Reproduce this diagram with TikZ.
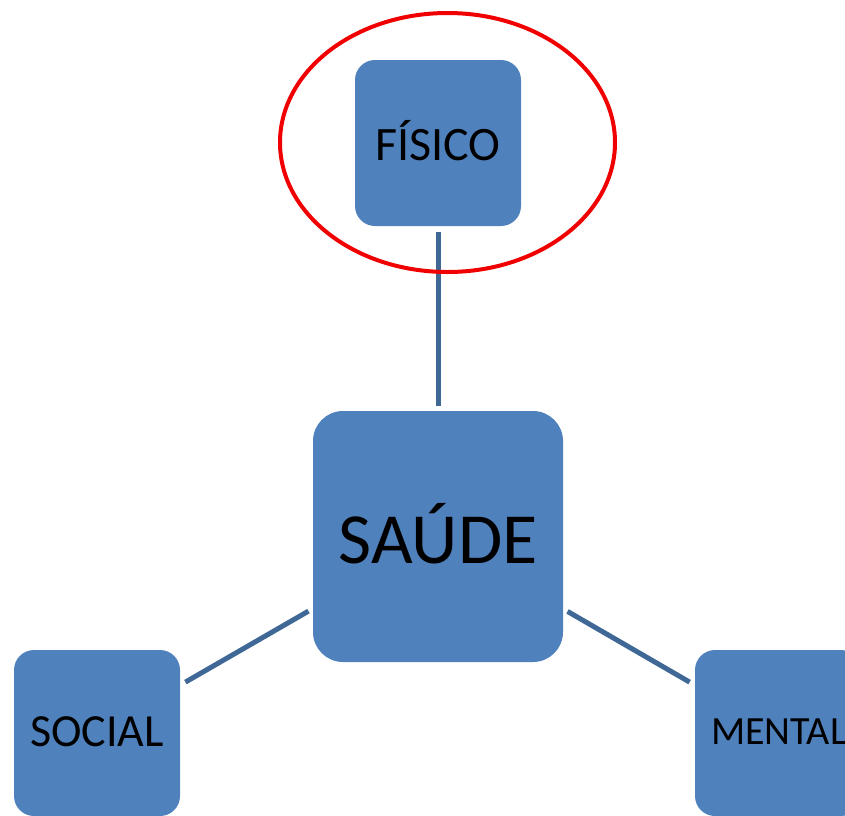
\documentclass[tikz,border=0pt]{standalone}
\usepackage{fontspec}
\usetikzlibrary{shapes.geometric}
\setmainfont{Carlito}
\definecolor{boxblue}{HTML}{4F81BD}
\definecolor{lineblue}{HTML}{3F6896}
\definecolor{ringred}{HTML}{F00000}
\begin{document}
\begin{tikzpicture}[x=1pt,y=-1pt,
  box/.style={fill=boxblue,draw=none,rounded corners=20pt,minimum width=166pt,minimum height=166pt,inner sep=0pt,text=black},
  link/.style={draw=lineblue,line width=5pt,shorten <=5pt,shorten >=6pt}]
\useasboundingbox (0,0) rectangle (845,815);
\node[box] (fisico) at (438,143) {\fontsize{48pt}{52pt}\selectfont\raisebox{5pt}{FÍSICO}};
\node[box,minimum width=250pt,minimum height=251pt,rounded corners=30pt] (saude) at (438,536.5) {\fontsize{72pt}{78pt}\selectfont\raisebox{7pt}{SAÚDE}};
\node[box] (social) at (97,733) {\fontsize{46pt}{50pt}\selectfont\raisebox{3pt}{SOCIAL}};
\node[box] (mental) at (778,733) {\fontsize{40pt}{44pt}\selectfont\kern2pt\raisebox{3pt}{MENTAL}};
\draw[link] (saude) -- (fisico);
\draw[link] (saude) -- (social);
\draw[link] (saude) -- (mental);
\node[draw=ringred,line width=4pt,ellipse,minimum width=335pt,minimum height=259pt,inner sep=0pt] (ring) at (447.5,142.5) {};
\end{tikzpicture}
\end{document}
